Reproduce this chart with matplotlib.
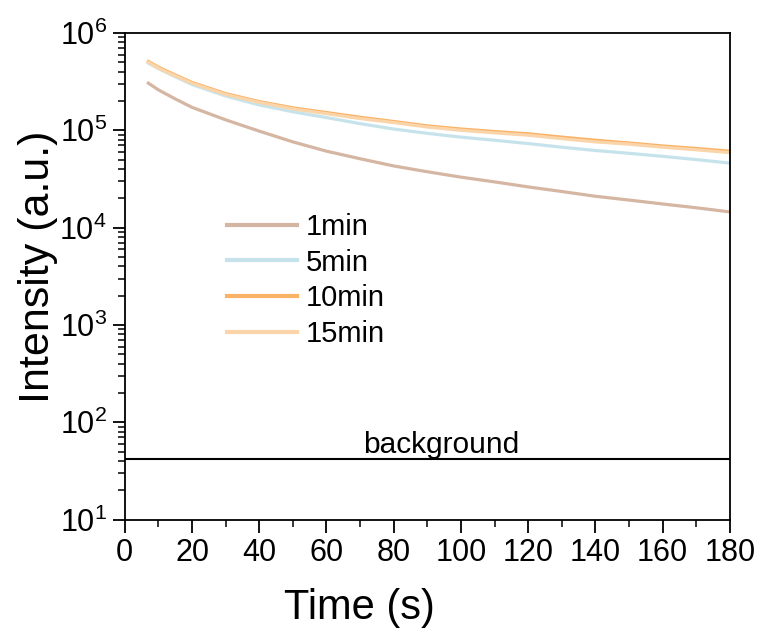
import matplotlib
matplotlib.use("Agg")
import matplotlib.pyplot as plt
from matplotlib.ticker import LogLocator, MultipleLocator, NullFormatter

plt.rcParams["font.family"] = ["Liberation Sans", "DejaVu Sans"]
plt.rcParams["mathtext.fontset"] = "custom"
plt.rcParams["mathtext.rm"] = "Liberation Sans"
plt.rcParams["mathtext.it"] = "Liberation Sans:italic"

# decay curves
time_s = [7, 10, 15, 20, 30, 40, 50, 60, 70, 80, 90, 100, 110, 120, 130, 140, 150, 160, 170, 180]
int_1min = [3.05e5, 2.6e5, 2.1e5, 1.72e5, 1.28e5, 9.8e4, 7.6e4, 6.1e4, 5.1e4, 4.3e4, 3.75e4,
            3.3e4, 2.95e4, 2.62e4, 2.35e4, 2.1e4, 1.92e4, 1.75e4, 1.6e4, 1.45e4]
int_5min = [4.9e5, 4.3e5, 3.55e5, 2.95e5, 2.25e5, 1.82e5, 1.55e5, 1.35e5, 1.17e5, 1.03e5, 9.3e4,
            8.5e4, 7.9e4, 7.3e4, 6.7e4, 6.2e4, 5.8e4, 5.4e4, 5.0e4, 4.6e4]
int_10min = [5.1e5, 4.45e5, 3.7e5, 3.1e5, 2.38e5, 1.97e5, 1.7e5, 1.52e5, 1.36e5, 1.23e5, 1.11e5,
             1.03e5, 9.7e4, 9.2e4, 8.5e4, 7.9e4, 7.4e4, 6.9e4, 6.5e4, 6.1e4]
int_15min = [5.0e5, 4.35e5, 3.62e5, 3.04e5, 2.33e5, 1.93e5, 1.66e5, 1.48e5, 1.32e5, 1.2e5, 1.08e5,
             1.0e5, 9.4e4, 8.9e4, 8.2e4, 7.6e4, 7.2e4, 6.7e4, 6.3e4, 5.9e4]
background_level = 42

labels = ["1min", "5min", "10min", "15min"]
colors = ["#d4b6a3", "#c6e3ec", "#f9b266", "#fbd5aa"]

fig = plt.figure(figsize=(7.61, 6.33), dpi=100)
ax = fig.add_axes([0.164, 0.179, 0.795, 0.769])

for y, lab, c in zip([int_1min, int_5min, int_10min, int_15min], labels, colors):
    ax.plot(time_s, y, color=c, lw=2.3, label=lab)

ax.axhline(background_level, color="black", lw=1.5)
ax.text(94, 48.5, "background", ha="center", va="baseline", fontsize=21.5)

ax.set_yscale("log")
ax.set_xlim(0, 180)
ax.set_ylim(10, 1e6)
ax.xaxis.set_major_locator(MultipleLocator(20))
ax.xaxis.set_minor_locator(MultipleLocator(10))
ax.yaxis.set_major_locator(LogLocator(base=10, numticks=10))
ax.yaxis.set_minor_locator(LogLocator(base=10, subs=range(2, 10), numticks=20))
ax.yaxis.set_minor_formatter(NullFormatter())
ax.tick_params(which="major", direction="out", length=9, width=1.3, labelsize=22, pad=4)
ax.tick_params(which="minor", direction="out", length=5, width=1.1)
for s in ax.spines.values():
    s.set_linewidth(1.3)

ax.set_xlabel("Time (s)", fontsize=30, va="center")
ax.set_ylabel("Intensity (a.u.)", fontsize=31, va="center")
ax.xaxis.set_label_coords(0.388, -0.181)
ax.yaxis.set_label_coords(-0.144, 0.52)

leg = ax.legend(loc="upper left", bbox_to_anchor=(0.169, 0.63), frameon=False, fontsize=21,
                handlelength=2.4, handletextpad=0.3, labelspacing=0.26, borderpad=0, borderaxespad=0)
for h in leg.get_lines():
    h.set_linewidth(3)

fig.savefig("out.png", dpi=100)
